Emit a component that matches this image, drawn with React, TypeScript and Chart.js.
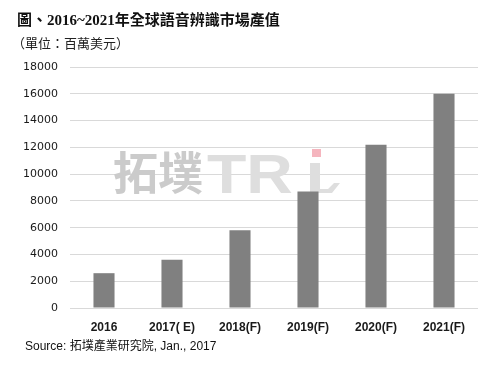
import React, { useEffect, useRef } from "react";
import { Chart, registerables } from "chart.js";

Chart.register(...registerables);

const categories = ["2016", "2017( E)", "2018(F)", "2019(F)", "2020(F)", "2021(F)"];
const marketValues = [2600, 3600, 5800, 8700, 12200, 16000];
const titleText = "圖、2016~2021年全球語音辨識市場產值";
const unitText = "（單位：百萬美元）";
const sourceText = "Source: 拓墣產業研究院, Jan., 2017";
const yMax = 18000;
const yStep = 2000;

const textPlugin = {
  id: "texts",
  beforeDatasetsDraw(chart: any) {
    const ctx = chart.ctx;
    ctx.save();
    // watermark
    ctx.textBaseline = "alphabetic";
    ctx.textAlign = "left";
    ctx.fillStyle = "#cbcbcb";
    ctx.font = "bold 45px 'Noto Sans CJK TC'";
    ctx.fillText("拓墣", 113, 190);
    ctx.save();
    ctx.translate(207, 193);
    ctx.scale(1.15, 1);
    ctx.fillStyle = "#dedede";
    ctx.font = "bold 56px 'Liberation Sans'";
    ctx.fillText("TR", 0, 0);
    ctx.restore();
    ctx.fillStyle = "#dedede";
    ctx.fillRect(310, 163, 10, 30);
    ctx.beginPath();
    ctx.moveTo(310, 193);
    ctx.lineTo(332, 193);
    ctx.lineTo(340, 183);
    ctx.lineTo(334, 183);
    ctx.lineTo(328, 189);
    ctx.lineTo(310, 189);
    ctx.closePath();
    ctx.fill();
    ctx.fillStyle = "#f5b5be";
    ctx.fillRect(312, 149, 9, 8);
    ctx.restore();
  },
  afterDraw(chart: any) {
    const ctx = chart.ctx;
    ctx.save();
    ctx.textBaseline = "middle";
    ctx.textAlign = "left";
    ctx.fillStyle = "#111";
    ctx.font = "bold 15px 'Liberation Serif', 'Noto Sans CJK TC'";
    ctx.fillText(titleText, 17, 21);
    ctx.font = "13px 'Noto Sans CJK TC'";
    ctx.fillStyle = "#222";
    ctx.fillText(unitText, 12, 43);
    ctx.font = "12px 'Liberation Sans', 'Noto Sans CJK TC'";
    ctx.fillStyle = "#111";
    ctx.fillText(sourceText, 25, 347);
    ctx.restore();
  },
};

export default function App() {
  const ref = useRef<HTMLCanvasElement>(null);
  useEffect(() => {
    if (!ref.current) return;
    const chart = new Chart(ref.current, {
      type: "bar",
      data: {
        labels: categories,
        datasets: [
          {
            data: marketValues,
            backgroundColor: "#808080",
            barPercentage: 0.31,
            categoryPercentage: 1,
          },
        ],
      },
      options: {
        animation: false,
        responsive: false,
        devicePixelRatio: 1,
        layout: { padding: { left: 0, right: 18, top: 67, bottom: 0 } },
        plugins: {
          legend: { display: false },
          tooltip: { enabled: false },
          title: { display: false },
        },
        scales: {
          x: {
            grid: { display: false },
            border: { display: false },
            ticks: {
              color: "#1a1a1a",
              padding: 4,
              maxRotation: 0,
              autoSkip: false,
              font: { family: "'Liberation Sans'", size: 12, weight: "bold" },
            },
            afterFit(scale: any) {
              scale.height = 59;
            },
          },
          y: {
            min: 0,
            max: yMax,
            grid: { color: "#d9d9d9", drawTicks: false, lineWidth: 1 },
            border: { display: false },
            ticks: {
              stepSize: yStep,
              padding: 12,
              color: "#1a1a1a",
              font: { family: "'DejaVu Sans'", size: 11 },
              callback: (v: any) => String(v),
            },
            afterFit(scale: any) {
              scale.width = 70;
            },
          },
        },
      },
      plugins: [textPlugin],
    });
    return () => chart.destroy();
  }, []);
  return (
    <div style={{ position: "absolute", left: 0, top: 0, width: 496, height: 367, background: "#fff" }}>
      <canvas ref={ref} width={496} height={367} style={{ width: 496, height: 367 }} />
    </div>
  );
}
